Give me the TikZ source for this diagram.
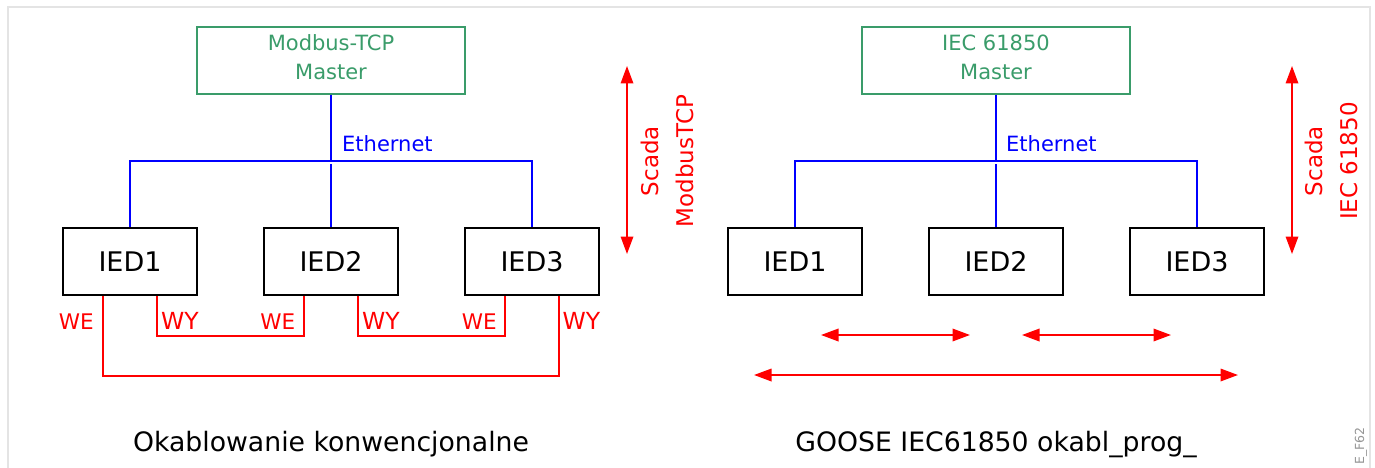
\documentclass[tikz,border=0pt]{standalone}
\usepackage{fontspec}
\setmainfont{DejaVu Sans}
\usetikzlibrary{arrows.meta,calc}
\definecolor{mgreen}{RGB}{58,156,106}
\definecolor{framegray}{RGB}{228,228,228}
\definecolor{labgray}{RGB}{150,150,150}
\begin{document}
\begin{tikzpicture}[x=1pt,y=-1pt,
  masterbox/.style={draw=mgreen,line width=1.5pt,minimum width=268pt,minimum height=67pt,inner sep=0pt},
  mtext/.style={text=mgreen,font=\fontsize{21}{25}\selectfont,inner sep=0pt,anchor=base},
  iedbox/.style={draw=black,line width=1.8pt,minimum width=134pt,minimum height=67pt,inner sep=0pt,font=\fontsize{27}{32}\selectfont},
  eth/.style={draw=blue,line width=1.8pt},
  ethlabel/.style={text=blue,font=\fontsize{21}{25}\selectfont,inner sep=0pt,anchor=west},
  wire/.style={draw=red,line width=1.8pt},
  welabel/.style={text=red,font=\fontsize{21.5}{25}\selectfont,inner sep=0pt,anchor=base east},
  wylabel/.style={text=red,font=\fontsize{23.5}{28}\selectfont,inner sep=0pt,anchor=base west},
  redarrow/.style={draw=red,line width=1.8pt,{Triangle[length=17.5pt,width=12.5pt]}-{Triangle[length=17.5pt,width=12.5pt]}},
  scadatext/.style={text=red,font=\fontsize{23}{28}\selectfont,inner sep=0pt,rotate=90},
  caption/.style={text=black,font=\fontsize{26.7}{32}\selectfont,inner sep=0pt,anchor=base},
]
\useasboundingbox (0,0) rectangle (1375,468);
% frame
\draw[framegray,line width=2pt] (7.5,468) -- (7.5,7.5) -- (1369.5,7.5) -- (1369.5,468);

% ================= LEFT =================
\node[masterbox] (m1) at (331,60.5) {};
\node[mtext] (m1a) at (331,51) {Modbus-TCP};
\node[mtext] (m1b) at (331,79.4) {Master};

\node[iedbox] (a1) at (130,261.5) {IED1};
\node[iedbox] (a2) at (331,261.5) {IED2};
\node[iedbox] (a3) at (532,261.5) {IED3};

\coordinate (bus1) at (331,161);
\draw[eth] (m1.south) -- (bus1);
\draw[eth] (a1.north) -- (a1.north |- bus1) -- (a3.north |- bus1) -- (a3.north);
\draw[eth] (a2.north) -- ([yshift=-3pt]a2.north |- bus1);
\node[ethlabel] (eth1) at (342,143.5) {Ethernet};

% conventional wiring
\draw[wire] ([xshift=-27pt]a1.south) -- ++(0,80) -| ([xshift=27pt]a3.south);
\draw[wire] ([xshift=27pt]a1.south) -- ++(0,40) -| ([xshift=-27pt]a2.south);
\draw[wire] ([xshift=27pt]a2.south) -- ++(0,40) -| ([xshift=-27pt]a3.south);

\node[welabel] (we1) at (94,329.5) {WE};
\node[wylabel] (wy1) at (161,329.5) {WY};
\node[welabel] (we2) at (295.5,329.5) {WE};
\node[wylabel] (wy2) at (362,329.5) {WY};
\node[welabel] (we3) at (497,329.5) {WE};
\node[wylabel] (wy3) at (562.5,329.5) {WY};

% scada arrow
\coordinate (s1t) at (627,66);
\coordinate (s1b) at (627,254);
\draw[redarrow] (s1t) -- (s1b);
\node[scadatext] (sc1) at (650,161) {Scada};
\node[scadatext] (sc1b) at (684.5,161) {ModbusTCP};

\node[caption] (cap1) at (331,451.5) {Okablowanie konwencjonalne};

% ================= RIGHT =================
\node[masterbox] (m2) at (996,60.5) {};
\node[mtext] (m2a) at (996,51) {IEC 61850};
\node[mtext] (m2b) at (996,79.4) {Master};

\node[iedbox] (b1) at (795,261.5) {IED1};
\node[iedbox] (b2) at (996,261.5) {IED2};
\node[iedbox] (b3) at (1197,261.5) {IED3};

\coordinate (bus2) at (996,161);
\draw[eth] (m2.south) -- (bus2);
\draw[eth] (b1.north) -- (b1.north |- bus2) -- (b3.north |- bus2) -- (b3.north);
\draw[eth] (b2.north) -- ([yshift=-3pt]b2.north |- bus2);
\node[ethlabel] (eth2) at (1006,143.5) {Ethernet};

% GOOSE arrows
\coordinate (g1l) at (821,335);
\coordinate (g1r) at (970,335);
\coordinate (g2l) at (1022,335);
\coordinate (g2r) at (1171,335);
\coordinate (g3l) at (754,375);
\coordinate (g3r) at (1238,375);
\draw[redarrow] (g1l) -- (g1r);
\draw[redarrow] (g2l) -- (g2r);
\draw[redarrow] (g3l) -- (g3r);

% scada arrow
\coordinate (s2t) at (1292,66);
\coordinate (s2b) at (1292,254);
\draw[redarrow] (s2t) -- (s2b);
\node[scadatext] (sc2) at (1314,161) {Scada};
\node[scadatext] (sc2b) at (1349.5,161) {IEC 61850};

\node[caption] (cap2) at (996,451.5) {GOOSE IEC61850 okabl\_prog\_};

\node[text=labgray,font=\fontsize{12.5}{14}\selectfont,inner sep=0pt,rotate=90] (ef) at (1361,446) {E\_F62};
\end{tikzpicture}
\end{document}
